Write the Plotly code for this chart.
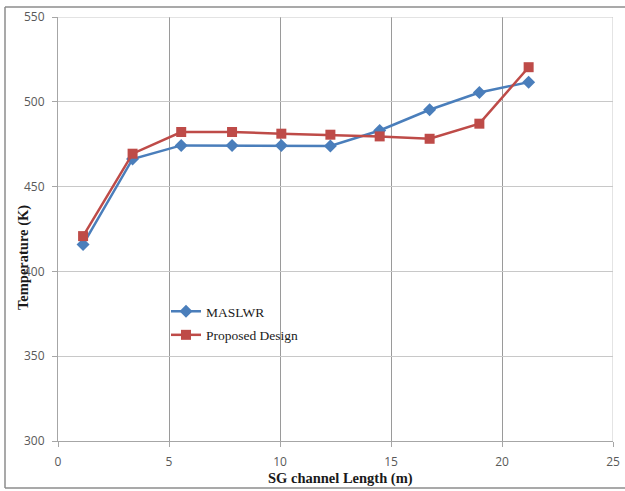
import plotly.graph_objects as go

length_m = [1.13, 3.36, 5.55, 7.84, 10.06, 12.27, 14.49, 16.74, 18.98, 21.2]
maslwr_temp = [415.9, 466.3, 474.3, 474.3, 474.3, 474.0, 483.1, 495.3, 505.5, 511.6]
proposed_temp = [420.8, 469.4, 482.2, 482.2, 481.2, 480.6, 479.6, 478.2, 487.1, 520.4]

blue = "#4A7EBB"
red = "#BE4B48"

fig = go.Figure()
fig.add_trace(go.Scatter(
    x=length_m, y=maslwr_temp, name="MASLWR", mode="lines+markers",
    line=dict(color=blue, width=2.5),
    marker=dict(symbol="diamond", size=10, color=blue),
    legendgroup="a",
))
fig.add_trace(go.Scatter(
    x=length_m, y=proposed_temp, name="Proposed Design", mode="lines+markers",
    line=dict(color=red, width=2.5),
    marker=dict(symbol="square", size=10, color=red),
    legendgroup="b",
))

axis_common = dict(
    showline=True, linecolor="#A6A6A6", linewidth=1,
    ticks="outside", ticklen=5, tickcolor="#A6A6A6",
    tickfont=dict(family="Open Sans, Liberation Sans, sans-serif", size=12, color="#595959"),
    zeroline=False, mirror=False, ticklabelstandoff=5, automargin=False,
)

fig.update_xaxes(range=[0, 25], dtick=5, tick0=0, showgrid=True,
                 gridcolor="#9A9A9A", gridwidth=1, **axis_common)
fig.update_yaxes(range=[300, 550], dtick=50, tick0=300, showgrid=True,
                 gridcolor="#C8C8C8", gridwidth=1, **axis_common)

# right and top frame of the plot area
fig.add_shape(type="line", xref="x", yref="paper", x0=25, x1=25, y0=0, y1=1,
              line=dict(color="#C8C8C8", width=1))
fig.add_shape(type="line", xref="paper", yref="y", x0=0, x1=1, y0=550, y1=550,
              line=dict(color="#C8C8C8", width=1))

# outer chart frame (top, left, bottom)
fx = -53 / 555
ft = (441 - 7) / 424
fb = (441 - 488) / 424
frame = dict(color="#8C8C8C", width=1.5)
fig.add_shape(type="line", xref="paper", yref="paper", x0=fx, x1=1.1, y0=ft, y1=ft, line=frame)
fig.add_shape(type="line", xref="paper", yref="paper", x0=fx, x1=fx, y0=ft, y1=fb, line=frame)
fig.add_shape(type="line", xref="paper", yref="paper", x0=fx, x1=1.1, y0=fb, y1=fb, line=frame)

fig.add_annotation(text="<b>Temperature (K)</b>", xref="paper", yref="paper",
                   x=(23 - 58) / 555, y=(441 - 258) / 424, textangle=-90, showarrow=False,
                   xanchor="center", yanchor="middle",
                   font=dict(family="Liberation Serif, serif", size=14.5, color="#1a1a1a"))
fig.add_annotation(text="<b>SG channel Length (m)</b>", xref="paper", yref="paper",
                   x=(340 - 58) / 555, y=(441 - 479) / 424, showarrow=False,
                   xanchor="center", yanchor="middle",
                   font=dict(family="Liberation Serif, serif", size=14.5, color="#1a1a1a"))

fig.update_layout(
    width=625, height=491,
    margin=dict(l=58, r=12, t=17, b=50),
    paper_bgcolor="white", plot_bgcolor="white",
    showlegend=True,
    legend=dict(
        x=(166 - 58) / 555, y=(441 - 296) / 424, xanchor="left", yanchor="top",
        bgcolor="rgba(0,0,0,0)", tracegroupgap=3,
        font=dict(family="Liberation Serif, serif", size=13.5, color="#1a1a1a"),
        itemwidth=30,
    ),
)

fig.write_html("out.html", config={"displayModeBar": False},
               post_script="document.body.style.margin='0';document.body.style.padding='0';")
